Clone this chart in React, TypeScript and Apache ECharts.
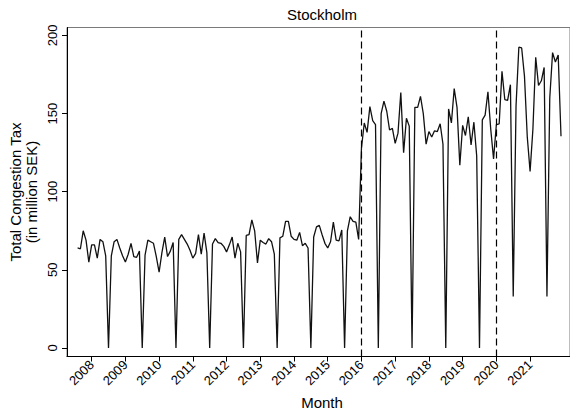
import React, { useEffect, useRef } from "react";
import * as echarts from "echarts";

// Monthly congestion tax revenue, Stockholm (million SEK), Aug 2007 – Dec 2021
const tax2007 = [64, 63.5, 75, 69, 55]; // Aug–Dec
const tax2008 = [66, 66, 57.5, 69.5, 68, 59, 0, 59, 68, 69.5, 64, 59];
const tax2009 = [55, 60, 67, 58.5, 58, 62, 0, 59.5, 69, 68, 67, 58.5];
const tax2010 = [48.5, 61, 71, 58.5, 62, 67.5, 0, 69.5, 72.5, 69.5, 66.5, 62.5];
const tax2011 = [57.5, 60.5, 72.5, 60, 73.5, 61, 0, 66.5, 70, 67.5, 67, 65];
const tax2012 = [61.5, 66, 71, 57.5, 67, 61.5, 0, 72, 72.5, 82, 75, 54.5];
const tax2013 = [69, 67.5, 66.5, 70, 68, 60, 0, 70.5, 71.5, 81, 81, 71.5];
const tax2014 = [69.5, 69, 74, 65.5, 67, 64, 0, 71, 77.5, 78.5, 72.5, 67];
const tax2015 = [64, 68, 80.5, 69, 68.5, 75.5, 0, 75, 84, 81, 80.5, 69.5];
const tax2016 = [128, 144, 138, 154.5, 145.5, 143, 0, 150, 158, 151.5, 139.5, 140.5];
const tax2017 = [131, 137.5, 163.5, 125, 147, 142, 0, 154, 154, 161, 150, 130.5];
const tax2018 = [138.5, 135, 139, 138.5, 143.5, 130.5, 0, 153, 144, 166, 154, 117];
const tax2019 = [142.5, 136, 148, 130, 144.5, 123, 0, 146, 149, 164, 140, 121];
const tax2020 = [143, 143.5, 177, 159, 158.5, 168.5, 33, 155, 192.5, 192, 174, 135];
const tax2021 = [113, 140, 186, 168, 171, 179.5, 33, 160, 189, 183, 187.5, 135.5];

// First observation is August 2007; x is counted in months from January 2008
const firstMonthOffset = -5;
const yearLabels = [2008, 2009, 2010, 2011, 2012, 2013, 2014, 2015, 2016, 2017, 2018, 2019, 2020, 2021];
const yTicks = [0, 50, 100, 150, 200];
const reformMonths = [96, 144]; // Jan 2016, Jan 2020

const allValues = [
  ...tax2007, ...tax2008, ...tax2009, ...tax2010, ...tax2011, ...tax2012, ...tax2013,
  ...tax2014, ...tax2015, ...tax2016, ...tax2017, ...tax2018, ...tax2019, ...tax2020, ...tax2021,
];

const FONT = "Liberation Sans, Arial, Helvetica, sans-serif";

export default function App() {
  const ref = useRef<HTMLDivElement>(null);

  useEffect(() => {
    document.body.style.margin = "0";
    if (!ref.current) return;
    const chart = echarts.init(ref.current, undefined, { renderer: "svg" });

    const seriesData = allValues.map((v, i) => [i + firstMonthOffset, v]);
    const yearTicks = yearLabels.map((_, i) => i * 12);

    chart.setOption({
      animation: false,
      backgroundColor: "#ffffff",
      grid: {
        left: 67,
        right: -7,
        top: 27.5,
        bottom: 56.5,
        show: true,
        borderColor: "#7a7a7a",
        borderWidth: 1,
        backgroundColor: "transparent",
      },
      xAxis: {
        type: "value",
        min: -8.77,
        max: 170.2,
        axisLine: { show: true, onZero: false, lineStyle: { color: "#000", width: 1 } },
        axisTick: { show: true, length: 5, customValues: yearTicks, lineStyle: { color: "#000" } },
        splitLine: { show: false },
        axisLabel: {
          customValues: yearTicks,
          rotate: 45,
          margin: 6,
          color: "#000",
          fontSize: 13,
          fontFamily: FONT,
          formatter: (v: number) => String(yearLabels[Math.round(v / 12)]),
        },
      },
      yAxis: {
        type: "value",
        min: -5.45,
        max: 205.1,
        axisLine: { show: true, onZero: false, lineStyle: { color: "#000", width: 1 } },
        axisTick: { show: true, length: 5, customValues: yTicks, lineStyle: { color: "#000" } },
        splitLine: { show: false },
        axisLabel: {
          customValues: yTicks,
          rotate: 90,
          margin: 8,
          color: "#000",
          fontSize: 13,
          fontFamily: FONT,
        },
      },
      graphic: [
        {
          type: "text",
          x: 322,
          y: 14,
          style: {
            text: "Stockholm",
            align: "center",
            verticalAlign: "middle",
            fontSize: 15,
            fontFamily: FONT,
            fill: "#000",
          },
        },
        {
          type: "text",
          x: 322,
          y: 402,
          style: {
            text: "Month",
            align: "center",
            verticalAlign: "middle",
            fontSize: 15,
            fontFamily: FONT,
            fill: "#000",
          },
        },
        {
          type: "text",
          x: 15,
          y: 192,
          rotation: Math.PI / 2,
          style: {
            text: "Total Congestion Tax",
            align: "center",
            verticalAlign: "middle",
            fontSize: 15,
            fontFamily: FONT,
            fill: "#000",
          },
        },
        {
          type: "text",
          x: 31,
          y: 192,
          rotation: Math.PI / 2,
          style: {
            text: "(in million SEK)",
            align: "center",
            verticalAlign: "middle",
            fontSize: 15,
            fontFamily: FONT,
            fill: "#000",
          },
        },
      ],
      series: [
        {
          type: "line",
          data: seriesData,
          showSymbol: false,
          symbol: "none",
          lineStyle: { color: "#111", width: 1.3 },
          markLine: {
            silent: true,
            symbol: ["none", "none"],
            label: { show: false },
            lineStyle: { color: "#000", width: 1.2, type: [7, 4] },
            data: reformMonths.map((m) => ({ xAxis: m })),
          },
        },
      ],
    });

    return () => chart.dispose();
  }, []);

  return <div ref={ref} style={{ width: 570, height: 413 }} />;
}
